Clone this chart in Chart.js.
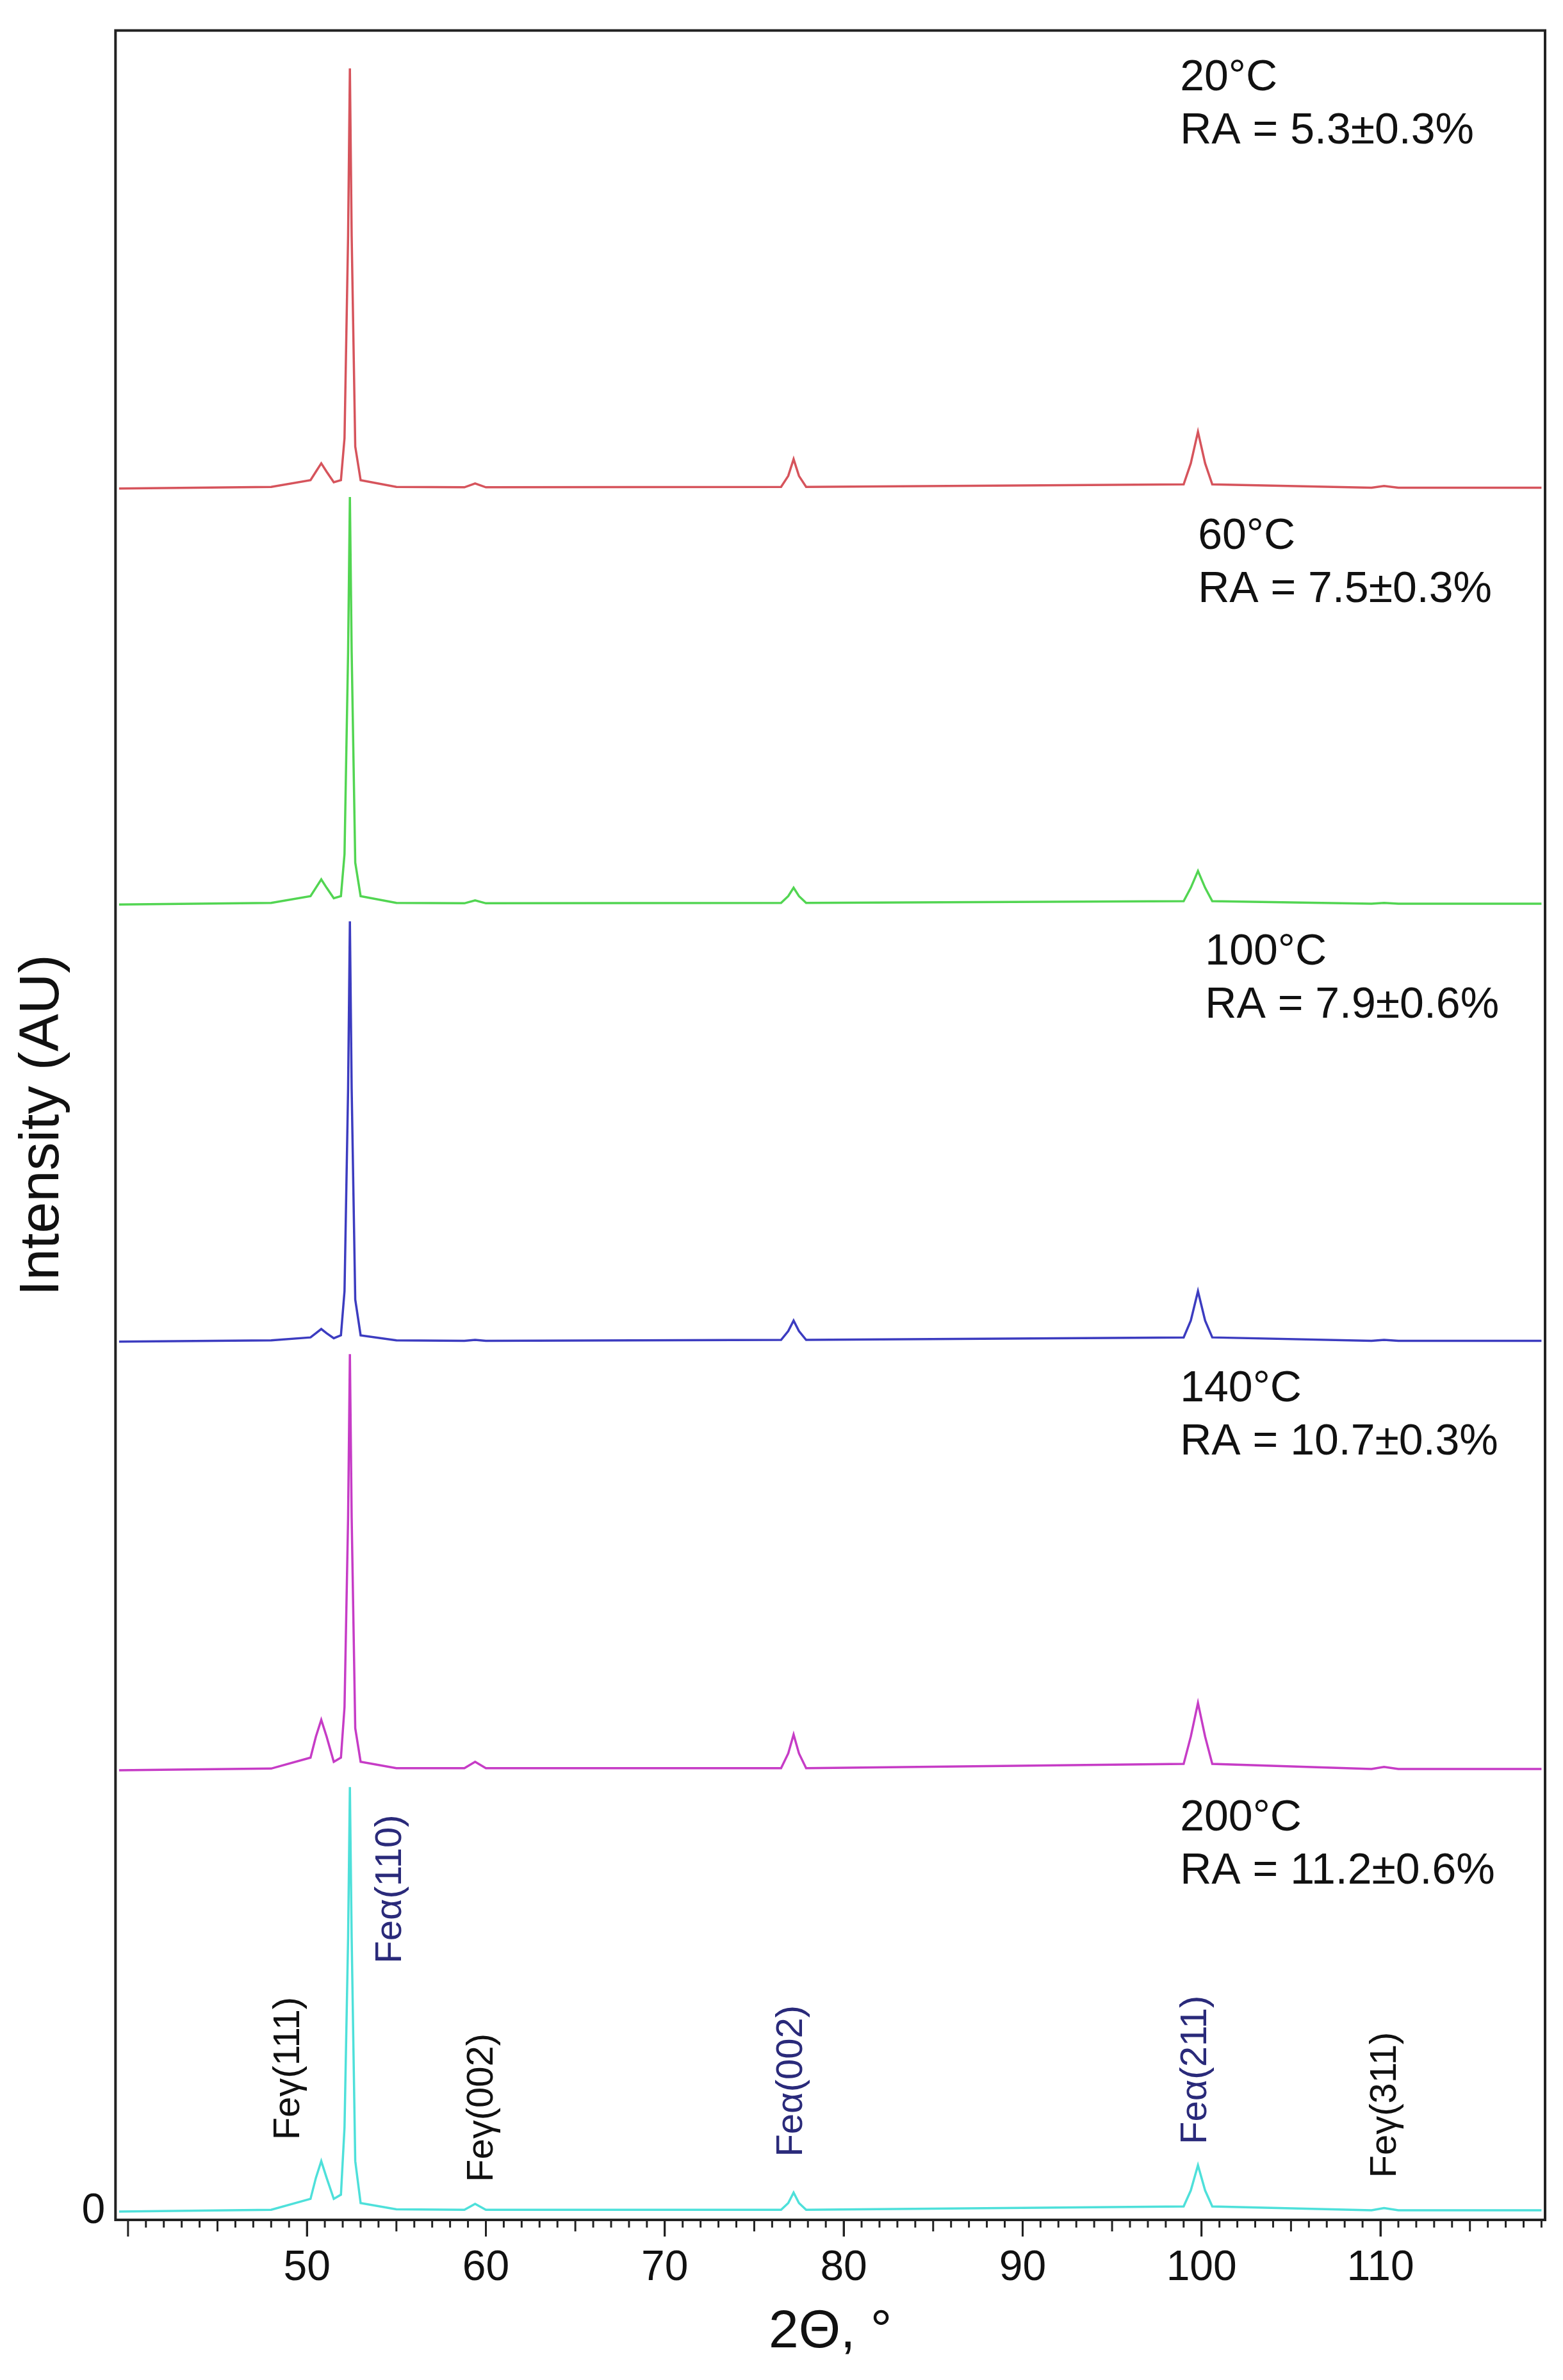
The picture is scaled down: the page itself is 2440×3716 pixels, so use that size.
<!DOCTYPE html>
<html><head><meta charset="utf-8">
<script src="https://cdn.jsdelivr.net/npm/chart.js@4"></script>
<style>html,body{margin:0;padding:0;background:#fff}#w{width:2440px;height:3716px}</style>
</head><body><div id="w"><canvas id="c"></canvas></div>
<script>
const angles = [39.5,48,50.2,50.5,50.8,51.1,51.5,51.9,52.1,52.3,52.4,52.5,52.7,53.0,55,58.8,59.4,60,76.5,76.9,77.2,77.5,77.9,99.0,99.4,99.8,100.2,100.6,109.5,110.2,111,119];
const s20  = [0,0.004,0.02,0.04,0.06,0.04,0.015,0.02,0.12,0.6,1.0,0.6,0.1,0.02,0.004,0.003,0.012,0.003,0.004,0.03,0.07,0.03,0.004,0.01,0.06,0.135,0.06,0.01,0.002,0.006,0.002,0.002];
const s60  = [0,0.004,0.02,0.04,0.06,0.04,0.015,0.02,0.12,0.6,0.97,0.6,0.1,0.02,0.004,0.003,0.01,0.003,0.004,0.02,0.04,0.02,0.004,0.008,0.04,0.08,0.04,0.008,0.002,0.004,0.002,0.002];
const s100 = [0,0.003,0.01,0.02,0.03,0.02,0.008,0.015,0.12,0.6,1.0,0.6,0.1,0.015,0.003,0.002,0.004,0.002,0.004,0.025,0.05,0.025,0.004,0.01,0.05,0.12,0.05,0.01,0.002,0.004,0.002,0.002];
const s140 = [0,0.004,0.03,0.08,0.12,0.08,0.02,0.03,0.15,0.6,0.99,0.6,0.1,0.02,0.005,0.005,0.02,0.005,0.005,0.04,0.085,0.04,0.005,0.015,0.08,0.16,0.08,0.015,0.003,0.008,0.003,0.003];
const s200 = [0,0.004,0.03,0.08,0.12,0.08,0.03,0.04,0.2,0.65,1.01,0.65,0.12,0.02,0.005,0.004,0.018,0.004,0.004,0.02,0.045,0.02,0.004,0.012,0.05,0.11,0.05,0.012,0.003,0.008,0.003,0.003];
const offsets = [4.10,3.11,2.07,1.05,0];
const temps = ["20°C","60°C","100°C","140°C","200°C"];
const raLabels = ["RA = 5.3±0.3%","RA = 7.5±0.3%","RA = 7.9±0.6%","RA = 10.7±0.3%","RA = 11.2±0.6%"];
const colors = ["#d6545c","#52d552","#3c3cc0","#c63cc6","#4ee0da"];
const peakLabels = ["Feγ(111)","Feα(110)","Feγ(002)","Feα(002)","Feα(211)","Feγ(311)"];
const peakAngles = [49.0,54.7,59.8,77.1,99.7,110.3];
const peakLabelBase = [0.17,0.59,0.07,0.13,0.16,0.08];
const peakLabelColor = ["#111","#2a2a7a","#111","#2a2a7a","#2a2a7a","#111"];
const xTicks = [50,60,70,80,90,100,110];

const series = [s20,s60,s100,s140,s200];
const datasets = series.map((s,i)=>({
  data: angles.map((a,j)=>({x:a,y:s[j]+offsets[i]})),
  borderColor: colors[i], borderWidth: 3.5, pointRadius: 0, tension: 0, fill:false
}));

const deco = {
  id:'deco',
  afterDraw(ch){
    const {ctx, chartArea:a, scales:{x,y}} = ch;
    ctx.save();
    ctx.strokeStyle='#222'; ctx.lineWidth=4;
    ctx.strokeRect(a.left,a.top,a.right-a.left,a.bottom-a.top);
    ctx.lineWidth=3;
    for(let v=40; v<=119; v++){
      const px=x.getPixelForValue(v);
      if(px<a.left||px>a.right) continue;
      const len = v%10===0?26:(v%5===0?18:12);
      ctx.beginPath(); ctx.moveTo(px,a.bottom); ctx.lineTo(px,a.bottom+len); ctx.stroke();
    }
    ctx.fillStyle='#111'; ctx.font='68px Arial, "Liberation Sans"'; ctx.textBaseline='middle'; ctx.textAlign='left';
    const xs=[98.8,99.8,100.2,98.8,98.8];
    temps.forEach((t,i)=>{
      const base=y.getPixelForValue(offsets[i]);
      const top=(i===0)? y.getPixelForValue(5.19):y.getPixelForValue(offsets[i-1]);
      const px=x.getPixelForValue(xs[i]);
      ctx.fillText(t,px,top+75);
      ctx.fillText(raLabels[i],px,top+158);
    });
    ctx.font='58px Arial, "Liberation Sans"';
    peakLabels.forEach((l,i)=>{
      ctx.save();
      ctx.translate(x.getPixelForValue(peakAngles[i]), y.getPixelForValue(peakLabelBase[i]));
      ctx.rotate(-Math.PI/2);
      ctx.fillStyle=peakLabelColor[i]; ctx.textAlign='left'; ctx.textBaseline='middle';
      ctx.fillText(l,0,0);
      ctx.restore();
    });
    ctx.restore();
  }
};

new Chart(document.getElementById('c'),{
  type:'line',
  data:{datasets},
  options:{
    responsive:true, maintainAspectRatio:false, animation:false,
    layout:{padding:{left:10,right:28,top:22,bottom:20}},
    plugins:{legend:{display:false},tooltip:{enabled:false}},
    scales:{
      x:{type:'linear',min:39.3,max:119.2,
        afterBuildTicks(s){s.ticks=xTicks.map(v=>({value:v}));},
        grid:{drawOnChartArea:false,drawTicks:true,tickLength:26,tickWidth:3,tickColor:'#222'},
        border:{display:false},
        ticks:{color:'#111',font:{size:66,family:'Arial, "Liberation Sans"'},padding:10,maxRotation:0},
        title:{display:true,text:'2Θ, °',color:'#111',font:{size:84,family:'Arial, "Liberation Sans"'},padding:{top:0}}
      },
      y:{type:'linear',min:-0.02,max:5.19,
        afterBuildTicks(s){s.ticks=[{value:0}];},
        grid:{display:false},border:{display:false},
        ticks:{color:'#111',font:{size:66,family:'Arial, "Liberation Sans"'},padding:8},
        title:{display:true,text:'Intensity (AU)',color:'#111',font:{size:88,family:'Arial, "Liberation Sans"'},padding:{bottom:0}}
      }
    }
  },
  plugins:[deco]
});
</script></body></html>
